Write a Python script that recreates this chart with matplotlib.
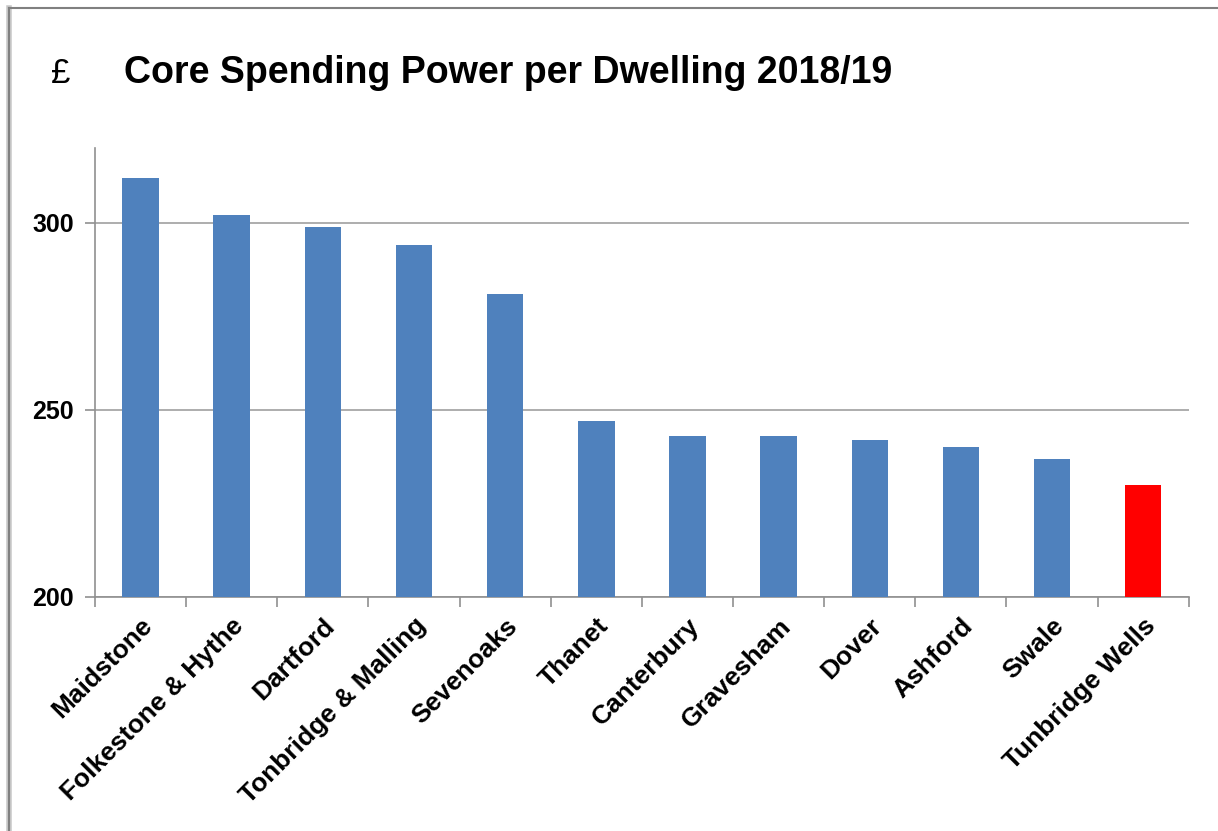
import matplotlib
matplotlib.use("Agg")
import matplotlib.pyplot as plt
from matplotlib.lines import Line2D
import numpy as np

plt.rcParams['font.family'] = ['Liberation Sans', 'DejaVu Sans']

councils = ['Maidstone', 'Folkestone & Hythe', 'Dartford', 'Tonbridge & Malling',
            'Sevenoaks', 'Thanet', 'Canterbury', 'Gravesham', 'Dover', 'Ashford',
            'Swale', 'Tunbridge Wells']
spending = [312, 302, 299, 294, 281, 247, 243, 243, 242, 240, 237, 230]
highlight = 'Tunbridge Wells'

fig = plt.figure(figsize=(12.18, 8.31), dpi=100)
ax = fig.add_axes([0.078, 0.2816, 0.898, 0.5403])

x = np.arange(len(councils))
colors = ['#ff0000' if c == highlight else '#4f81bd' for c in councils]
ax.bar(x, spending, width=0.4, color=colors, zorder=3)

ax.set_xlim(-0.5, len(councils) - 0.5)
ax.set_ylim(200, 320)
ax.set_yticks([200, 250, 300])
ax.set_yticklabels(['200', '250', '300'], fontsize=18, fontweight='bold')
ax.yaxis.grid(True, color='#a0a0a0', linewidth=1.2, zorder=0)

ax.set_xticks(x)
ax.set_xticklabels(councils, fontsize=19, fontweight='bold', rotation=45,
                   ha='right', rotation_mode='anchor')
ax.tick_params(axis='x', length=0, pad=12)
ax.set_xticks(np.arange(-0.5, len(councils)), minor=True)
ax.tick_params(axis='x', which='minor', length=7, color='#909090', width=1.2)
ax.tick_params(axis='y', length=7, color='#909090', width=1.2, pad=8)

for s in ['top', 'right']:
    ax.spines[s].set_visible(False)
for s in ['left', 'bottom']:
    ax.spines[s].set_color('#909090')
    ax.spines[s].set_linewidth(1.2)

fig.text(0.042, 0.912, '£', fontsize=25, va='center', ha='left')
fig.text(0.102, 0.912, 'Core Spending Power per Dwelling 2018/19',
         fontsize=27, fontweight='bold', va='center', ha='left')

# frame around the chart
fig.add_artist(Line2D([0.0075, 0.0075], [0.0, 0.99], color='#c8c8c8', linewidth=4))
fig.add_artist(Line2D([0.0075, 0.0075], [0.0, 0.99], color='#808080', linewidth=1.5))
fig.add_artist(Line2D([0.0075, 1.0], [0.99, 0.99], color='#808080', linewidth=1.5))

fig.savefig('out.png', dpi=100)
